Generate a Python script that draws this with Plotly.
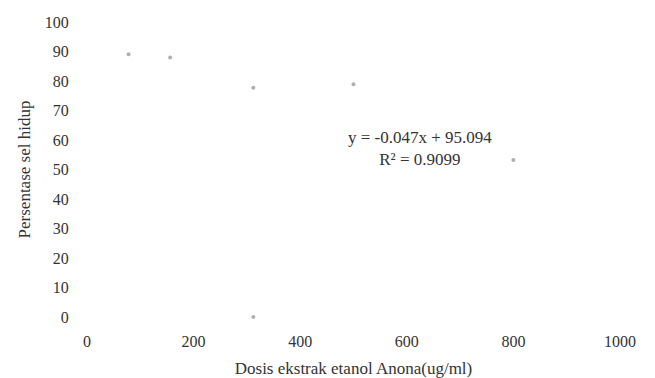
import plotly.graph_objects as go

# data
dose = [78, 156, 312, 500, 800, 312]
survival = [89.1, 88.0, 77.7, 78.9, 53.2, 0]

x_ticks = [0, 200, 400, 600, 800, 1000]
y_ticks = [0, 10, 20, 30, 40, 50, 60, 70, 80, 90, 100]

equation = "y = -0.047x + 95.094"
r_squared = "R² = 0.9099"

font_family = "Liberation Serif, Times New Roman, serif"
text_color = "#333333"

fig = go.Figure()

fig.add_trace(go.Scatter(
    x=dose, y=survival, mode="markers",
    marker=dict(color="#b0b0b0", size=4),
    cliponaxis=False, showlegend=False
))

fig.add_annotation(
    x=625, y=57, xref="x", yref="y",
    text=equation + "<br>" + r_squared,
    showarrow=False, align="center",
    font=dict(family=font_family, size=17, color=text_color)
)

# page body adds an 8px offset, so the figure is a bit smaller than the window
fig.update_layout(
    width=647, height=370,
    margin=dict(l=79, r=35, t=14, b=61),
    paper_bgcolor="white", plot_bgcolor="white",
    font=dict(family=font_family, size=16, color=text_color),
)

fig.update_xaxes(
    range=[0, 1000], tickvals=x_ticks, automargin=False,
    showgrid=False, zeroline=False, showline=False,
    ticks="outside", ticklen=10, tickcolor="white",
    title=dict(text="Dosis ekstrak etanol Anona(ug/ml)", standoff=12,
               font=dict(size=17))
)

fig.update_yaxes(
    range=[0, 100], tickvals=y_ticks, automargin=False,
    showgrid=False, zeroline=False, showline=False,
    ticks="outside", ticklen=14, tickcolor="white",
    title=dict(text="Persentase sel hidup", standoff=9,
               font=dict(size=17))
)

fig.write_html("out.html")
